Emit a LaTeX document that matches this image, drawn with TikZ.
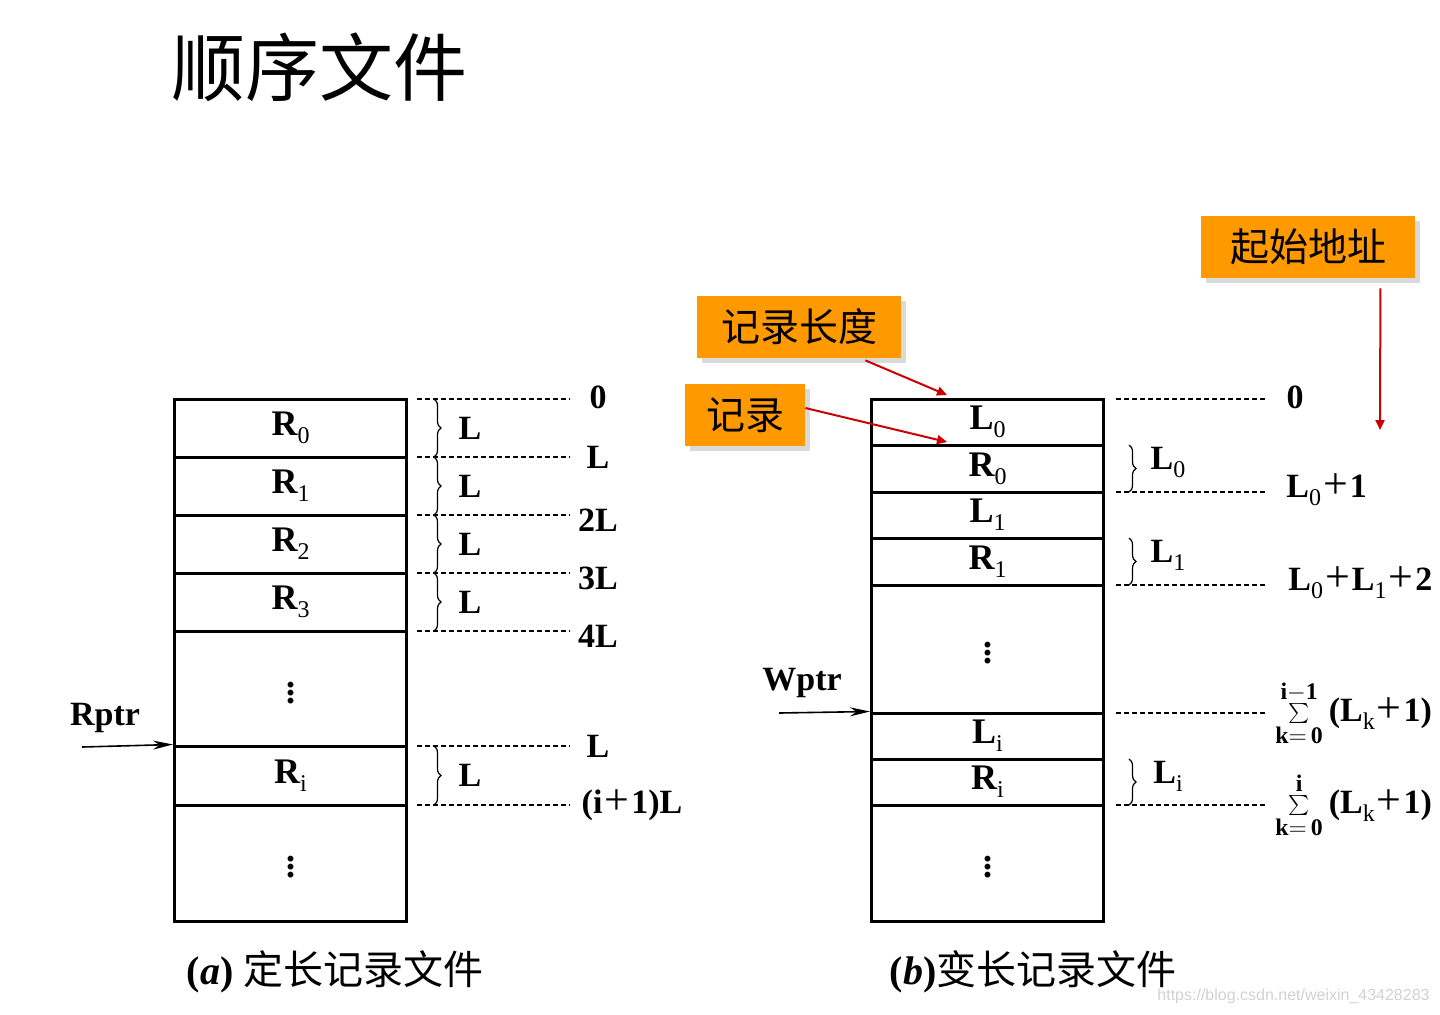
\documentclass[tikz,border=0pt]{standalone}
\usepackage{fontspec}
\setmainfont{Liberation Serif}
\setsansfont{Liberation Sans}
\newfontfamily\cjk{Noto Sans CJK SC}
\usetikzlibrary{decorations.pathreplacing,arrows.meta}

\definecolor{tagorange}{HTML}{FF9900}
\definecolor{tagshadow}{HTML}{D9D9D9}
\definecolor{arrowred}{HTML}{CC0000}

\tikzset{
  cell/.style={draw, line width=1.5pt, minimum width=116pt, inner sep=0pt,
    font=\bfseries\fontsize{18}{18}\selectfont},
  guide/.style={dash pattern=on 2.5pt off 1.5pt, line width=0.8pt},
  lengthbrace/.style={decorate, decoration={brace, amplitude=3.5pt}, line width=0.6pt},
  lab/.style={inner sep=0pt, font=\bfseries\fontsize{17}{17}\selectfont},
  tag/.style={fill=tagorange, inner sep=0pt, minimum height=31pt,
    font=\cjk\fontsize{19.5}{19.5}\selectfont},
  pointer/.style={-{Stealth[length=10pt,width=4.5pt]}, line width=0.8pt},
  hint/.style={-{Triangle[length=5pt,width=4.5pt]}, arrowred, line width=1pt},
}

\newcommand{\sub}[1]{\raisebox{-4pt}{\fontsize{12}{12}\selectfont\mdseries #1}}
\newcommand{\plus}{\kern1pt{\mdseries\fontsize{22}{17}\selectfont\raisebox{-0.5pt}{+}}\kern1pt}
\newcommand{\vdot}{\raisebox{2pt}{$\vdots$}}

\begin{document}
\begin{tikzpicture}[x=0.5pt, y=-0.5pt]
\useasboundingbox (0,0) rectangle (1440,1014);

% title
\node[inner sep=0pt, font=\cjk\fontsize{37}{37}\selectfont] (title) at (319,67) {顺序文件};

% (a) fixed length records
\foreach \name/\top/\bot/\txt in {a0/399/457/R\sub{0}, a1/457/515/R\sub{1}, a2/515/573/R\sub{2},
    a3/573/631/R\sub{3}, adots/631/746/\vdot, ai/746/805/R\sub{i}, aend/805/921/\vdot}
  \node[cell, minimum height={(\bot-\top)*0.5pt}] (\name) at (290.5,{(\top+\bot)/2}) {\txt};

\foreach \y [count=\k] in {399, 457, 515, 573, 631, 746, 805} {
  \coordinate (ga\k) at (417,\y);
  \coordinate (gb\k) at (570,\y);
  \draw[guide] (ga\k) -- (gb\k);
}
\foreach \y/\txt in {397/0, 457/L, 520/2L, 578/3L, 636/4L, 746/L}
  \node[lab] at (598,\y) {\txt};
\node[lab] at (632,805) {(i\plus1)L};

\foreach \top/\bot in {399/457, 457/515, 515/573, 573/631, 746/805} {
  \draw[lengthbrace] (434,\top) -- (434,\bot);
  \node[lab] at (470,{(\top+\bot)/2}) {L};
}

\node[lab] (rptr) at (105,718) {Rptr};
\coordinate (rstart) at (82,747);
\draw[pointer] (rstart) -- (ai.north west);

\node[inner sep=0pt, font=\bfseries\fontsize{20}{20}\selectfont] (capa) at (335,972)
  {(\textit{a}) {\cjk\mdseries 定长记录文件}};

% (b) variable length records
\foreach \name/\top/\bot/\txt in {bl0/399/445/L\sub{0}, br0/445/492/R\sub{0}, bl1/492/538/L\sub{1},
    br1/538/585/R\sub{1}, bdots/585/713/\vdot, bli/713/759/L\sub{i}, bri/759/805/R\sub{i},
    bend/805/921/\vdot}
  \node[cell, minimum height={(\bot-\top)*0.5pt}] (\name) at (987.5,{(\top+\bot)/2}) {\txt};

\foreach \y [count=\k] in {399, 492, 585, 713, 805} {
  \coordinate (gc\k) at (1116,\y);
  \coordinate (gd\k) at (1267,\y);
  \draw[guide] (gc\k) -- (gd\k);
}
\foreach \top/\bot/\txt in {445/492/L\sub{0}, 538/585/L\sub{1}, 759/805/L\sub{i}} {
  \draw[lengthbrace] (1129,\top) -- (1129,\bot);
  \node[lab] at (1168,{(\top+\bot)/2-6}) {\txt};
}
\node[lab] at (1295,397) {0};
\node[lab, anchor=west] at (1286,490) {L\sub{0}\plus1};
\node[lab, anchor=west] at (1288,583) {L\sub{0}\plus L\sub{1}\plus2};
\node[lab, anchor=west] at (1275,713)
  {$\sum\limits_{\mathbf{k=\,0}}^{\mathbf{i-1}}$\kern3pt(L\sub{k}\plus1)};
\node[lab, anchor=west] at (1275,805)
  {$\sum\limits_{\mathbf{k=\,0}}^{\mathbf{i}}$\kern3pt(L\sub{k}\plus1)};

\node[lab] (wptr) at (802,683) {Wptr};
\coordinate (wstart) at (779,713);
\draw[pointer] (wstart) -- (bli.north west);

\node[inner sep=0pt, font=\bfseries\fontsize{20}{20}\selectfont] (capb) at (1033,972)
  {(\textit{b}){\cjk\mdseries 变长记录文件}};

% orange hints
\foreach \name/\cx/\cy/\w/\txt in {start/1308/247/214/起始地址, lenhint/799/327/204/记录长度, rechint/745/415/120/记录} {
  \fill[tagshadow] (\cx-\w/2+5,\cy-31+5) rectangle (\cx+\w/2+5,\cy+31+5);
  \node[tag, minimum width=\w*0.5pt] (\name) at (\cx,\cy) {\txt};
}
\coordinate (lentip) at (947,395);
\coordinate (rectip) at (947,442);
\coordinate (starttip) at (1380,430);
\draw[hint] (lenhint.south east) ++(-36,2) -- (lentip);
\draw[hint] (rechint.east) ++(0,-7) -- (rectip);
\draw[hint] (start.south east) ++(-35,10) -- (starttip);

% watermark
\node[inner sep=0pt, anchor=east, text=black!18, font=\sffamily\fontsize{8}{8}\selectfont] (mark) at (1430,996)
  {https://blog.csdn.net/weixin\_43428283};
\end{tikzpicture}
\end{document}
